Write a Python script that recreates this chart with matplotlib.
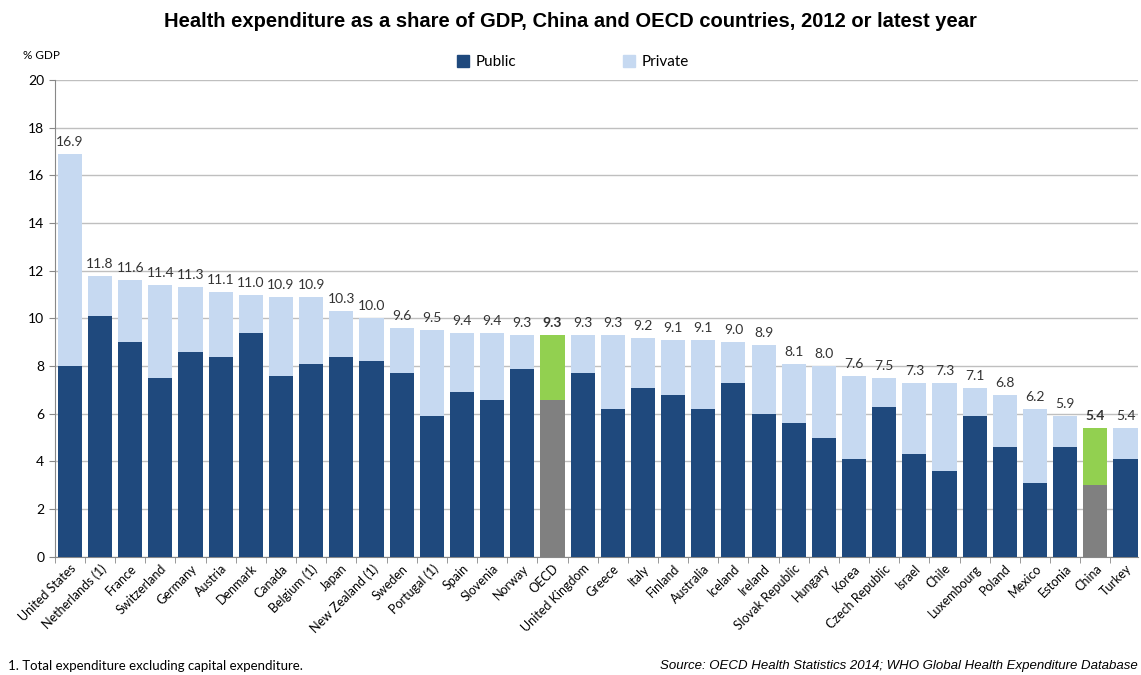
import matplotlib.pyplot as plt
from matplotlib.patches import Patch
import numpy as np

countries = ["United States", "Netherlands (1)", "France", "Switzerland", "Germany", "Austria",
             "Denmark", "Canada", "Belgium (1)", "Japan", "New Zealand (1)", "Sweden",
             "Portugal (1)", "Spain", "Slovenia", "Norway", "OECD", "United Kingdom", "Greece",
             "Italy", "Finland", "Australia", "Iceland", "Ireland", "Slovak Republic", "Hungary",
             "Korea", "Czech Republic", "Israel", "Chile", "Luxembourg", "Poland", "Mexico",
             "Estonia", "China", "Turkey"]
total = [16.9, 11.8, 11.6, 11.4, 11.3, 11.1, 11.0, 10.9, 10.9, 10.3, 10.0, 9.6,
         9.5, 9.4, 9.4, 9.3, 9.3, 9.3, 9.3, 9.2, 9.1, 9.1, 9.0, 8.9, 8.1, 8.0,
         7.6, 7.5, 7.3, 7.3, 7.1, 6.8, 6.2, 5.9, 5.4, 5.4]
public = [8.0, 10.1, 9.0, 7.5, 8.6, 8.4, 9.4, 7.6, 8.1, 8.4, 8.2, 7.7,
          5.9, 6.9, 6.6, 7.9, 6.6, 7.7, 6.2, 7.1, 6.8, 6.2, 7.3, 6.0, 5.6, 5.0,
          4.1, 6.3, 4.3, 3.6, 5.9, 4.6, 3.1, 4.6, 3.0, 4.1]
highlight = ["OECD", "China"]

PUBLIC_C = "#1F497D"
PRIVATE_C = "#C6D9F1"
HL_PUB = "#808080"
HL_PRIV = "#92D050"

plt.rcParams['font.family'] = ['Lato', 'DejaVu Sans']

fig = plt.figure(figsize=(11.41, 6.75), dpi=100)
ax = fig.add_axes([0.048, 0.175, 0.949, 0.7065])

x = np.arange(len(countries))
total = np.array(total)
public = np.array(public)
private = total - public
is_hl = np.array([c in highlight for c in countries])

pub_colors = [HL_PUB if h else PUBLIC_C for h in is_hl]
priv_colors = [HL_PRIV if h else PRIVATE_C for h in is_hl]

ax.bar(x, public, width=0.8, color=pub_colors, zorder=3)
ax.bar(x, private, width=0.8, bottom=public, color=priv_colors, zorder=3)

for i, (t, h) in enumerate(zip(total, is_hl)):
    ax.text(i, t + 0.25, f"{t:.1f}", ha="center", va="bottom", fontsize=10,
            color="#333333", fontweight="bold" if h else "normal", zorder=4)

ax.set_xlim(-0.5, 35.4)
ax.set_ylim(0, 20)
ax.set_yticks(np.arange(0, 21, 2))
ax.yaxis.grid(True, color="#bfbfbf", linewidth=1, zorder=0)
ax.tick_params(axis="y", length=4, color="#888888", labelsize=10)
ax.set_xticks(x)
ax.set_xticklabels(countries, rotation=45, ha="right", rotation_mode="anchor", fontsize=9)
ax.tick_params(axis="x", length=0, pad=4)
ax.set_xticks(np.arange(-0.5, 35.5, 1), minor=True)
ax.tick_params(axis="x", which="minor", length=4, color="#888888")

for s in ["top", "right"]:
    ax.spines[s].set_visible(False)
ax.spines["left"].set_color("#888888")
ax.spines["bottom"].set_color("#888888")

fig.text(0.5, 0.968, "Health expenditure as a share of GDP, China and OECD countries, 2012 or latest year",
         ha="center", va="center", fontsize=14.5, fontweight="bold", family="Liberation Sans")
fig.text(0.02, 0.918, "% GDP", fontsize=8.5, ha="left", va="center")

handles = [Patch(color=PUBLIC_C), Patch(color=PRIVATE_C)]
fig.legend(handles, ["Public", "Private"], loc="center", bbox_to_anchor=(0.502, 0.908), ncol=2,
           frameon=False, fontsize=11, handlelength=0.8, handleheight=0.8, columnspacing=7,
           handletextpad=0.4)

fig.text(0.007, 0.005, "1. Total expenditure excluding capital expenditure.", fontsize=9.5,
         ha="left", va="bottom")
fig.text(0.997, 0.005, "Source: OECD Health Statistics 2014; WHO Global Health Expenditure Database",
         fontsize=9.5, ha="right", va="bottom", style="italic", family="Liberation Sans")

fig.savefig("out.png", dpi=100)
